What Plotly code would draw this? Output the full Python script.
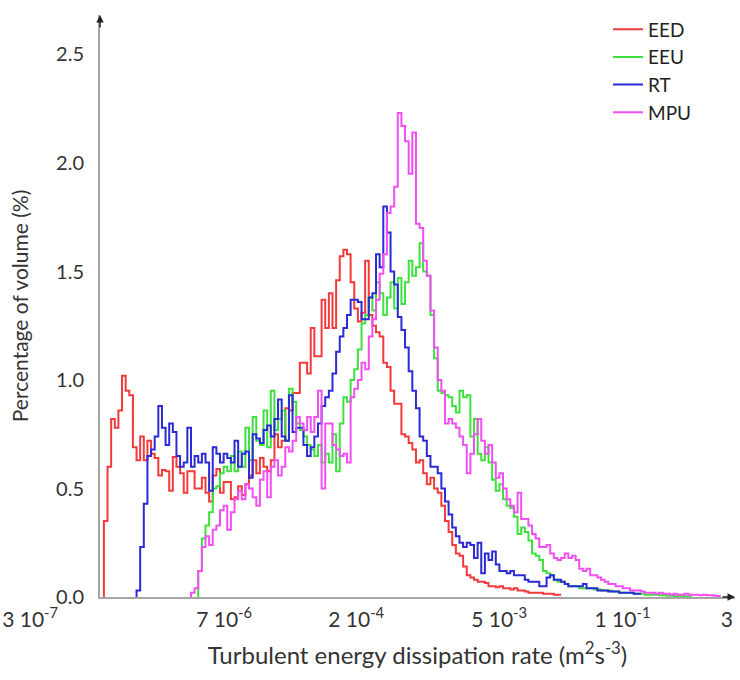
import numpy as np
import plotly.graph_objects as go

# Histogram grid (log10 of dissipation rate), regular bins
BIN0_LOG10 = -6.52
BIN_WIDTH_LOG10 = 0.04

series_names = ["EED", "EEU", "RT", "MPU"]
series_colors = ["#f23a3a", "#3ee03e", "#2a2ad6", "#f24ff2"]

eed_start = 1
eed_values = [0.35, 0.60, 0.82, 0.78, 0.86, 1.02, 0.95, 0.93, 0.69, 0.63,
              0.74, 0.63, 0.72, 0.66, 0.64, 0.56, 0.585, 0.58, 0.49, 0.645,
              0.60, 0.57, 0.48, 0.58, 0.58, 0.50, 0.50, 0.55, 0.48, 0.44,
              0.56, 0.59, 0.48, 0.53, 0.53, 0.45, 0.46, 0.51, 0.47, 0.52,
              0.56, 0.63, 0.57, 0.64, 0.60, 0.58, 0.63, 0.75, 0.69, 0.72,
              0.87, 0.86, 0.94, 0.94, 1.08, 1.08, 1.03, 1.24, 1.11, 1.11,
              1.37, 1.24, 1.40, 1.24, 1.46, 1.57, 1.60, 1.58, 1.45, 1.33,
              1.27, 1.31, 1.55, 1.30, 1.25, 1.22, 1.20, 1.08, 1.06, 0.95,
              0.89, 0.89, 0.75, 0.74, 0.71, 0.68, 0.62, 0.63, 0.57, 0.52,
              0.55, 0.50, 0.48, 0.42, 0.35, 0.30, 0.24, 0.20, 0.19, 0.14,
              0.10, 0.09, 0.08, 0.07, 0.07, 0.065, 0.05, 0.05, 0.045, 0.05,
              0.04, 0.04, 0.035, 0.04, 0.03, 0.03, 0.025, 0.02, 0.02, 0.02,
              0.02, 0.015, 0.015, 0.015, 0.01, 0.01]

eeu_start = 27
eeu_values = [0.12, 0.27, 0.33, 0.39, 0.50, 0.51, 0.57, 0.60, 0.58, 0.65,
              0.58, 0.67, 0.60, 0.78, 0.63, 0.83, 0.72, 0.70, 0.86, 0.69,
              0.95, 0.77, 0.82, 0.86, 0.72, 0.96, 0.90, 0.80, 0.77, 0.74,
              0.70, 0.68, 0.65, 0.70, 0.62, 0.66, 0.62, 0.75, 0.58, 0.80,
              0.92, 0.90, 1.00, 1.05, 1.14, 1.26, 1.30, 1.38, 1.32, 1.45,
              1.40, 1.30, 1.38, 1.45, 1.33, 1.47, 1.35, 1.45, 1.55, 1.48,
              1.52, 1.63, 1.50, 1.48, 1.30, 1.10, 0.95, 0.94, 0.93, 0.92,
              0.88, 0.85, 0.95, 0.92, 0.93, 0.74, 0.82, 0.66, 0.63, 0.69,
              0.62, 0.54, 0.49, 0.52, 0.45, 0.42, 0.41, 0.37, 0.29, 0.32,
              0.30, 0.26, 0.20, 0.19, 0.17, 0.12, 0.11, 0.10, 0.08, 0.07,
              0.07, 0.06, 0.05, 0.05, 0.05, 0.04, 0.04, 0.04, 0.04, 0.035,
              0.035, 0.03, 0.03, 0.03, 0.025, 0.025, 0.02, 0.02, 0.02, 0.02,
              0.015, 0.015, 0.015, 0.01, 0.01, 0.01, 0.01, 0.008, 0.008, 0.006,
              0.006, 0.005, 0.005, 0.004, 0.004, 0.003]

rt_start = 10
rt_values = [0.03, 0.23, 0.43, 0.65, 0.68, 0.74, 0.88, 0.78, 0.70, 0.80,
             0.76, 0.65, 0.60, 0.62, 0.78, 0.60, 0.65, 0.62, 0.66, 0.62,
             0.49, 0.69, 0.66, 0.62, 0.66, 0.64, 0.62, 0.72, 0.60, 0.66,
             0.67, 0.55, 0.75, 0.73, 0.71, 0.77, 0.79, 0.74, 0.82, 0.91,
             0.74, 0.72, 0.93, 0.76, 0.78, 0.78, 0.70, 0.65, 0.69, 0.74,
             0.80, 0.88, 0.92, 0.95, 1.03, 1.13, 1.20, 1.24, 1.30, 1.37,
             1.37, 1.36, 1.28, 1.28, 1.38, 1.40, 1.58, 1.52, 1.80, 1.68,
             1.50, 1.44, 1.29, 1.23, 1.15, 1.04, 0.95, 0.87, 0.74, 0.72,
             0.65, 0.60, 0.60, 0.57, 0.50, 0.44, 0.38, 0.32, 0.28, 0.25,
             0.23, 0.25, 0.24, 0.18, 0.25, 0.11, 0.20, 0.17, 0.21, 0.15,
             0.12, 0.12, 0.11, 0.12, 0.10, 0.10, 0.10, 0.08, 0.07, 0.07,
             0.07, 0.05, 0.05, 0.09, 0.10, 0.08, 0.08, 0.07, 0.06, 0.05,
             0.05, 0.05, 0.05, 0.06, 0.04, 0.04, 0.04, 0.03, 0.03, 0.03,
             0.025, 0.025, 0.025, 0.02, 0.02, 0.02, 0.02, 0.015, 0.015]

mpu_start = 25
mpu_values = [0.02, 0.04, 0.12, 0.23, 0.28, 0.24, 0.31, 0.33, 0.40, 0.42,
              0.31, 0.39, 0.45, 0.49, 0.45, 0.52, 0.50, 0.46, 0.42, 0.54,
              0.58, 0.46, 0.60, 0.63, 0.56, 0.60, 0.69, 0.67, 0.72, 0.83,
              0.80, 0.77, 0.83, 0.76, 0.83, 0.95, 0.50, 0.80, 0.80, 0.70,
              0.68, 0.65, 0.66, 0.62, 0.92, 0.96, 1.00, 1.08, 1.05, 1.20,
              1.28, 1.37, 1.49, 1.58, 1.77, 1.80, 1.89, 2.23, 2.17, 2.10,
              1.95, 2.14, 1.72, 1.70, 1.55, 1.48, 1.32, 1.15, 1.00, 0.95,
              0.80, 0.82, 0.80, 0.78, 0.74, 0.70, 0.57, 0.66, 0.75, 0.82,
              0.72, 0.66, 0.70, 0.62, 0.55, 0.57, 0.50, 0.45, 0.42, 0.39,
              0.48, 0.36, 0.36, 0.33, 0.29, 0.27, 0.23, 0.23, 0.24, 0.20,
              0.18, 0.17, 0.18, 0.20, 0.18, 0.19, 0.17, 0.13, 0.12, 0.13,
              0.10, 0.10, 0.09, 0.08, 0.07, 0.06, 0.06, 0.05, 0.05, 0.04,
              0.04, 0.03, 0.03, 0.03, 0.025, 0.02, 0.02, 0.02, 0.015, 0.02,
              0.015, 0.015, 0.01, 0.015, 0.01, 0.01, 0.015, 0.01, 0.01, 0.01,
              0.008, 0.01, 0.008, 0.008, 0.006, 0.005]

x_tick_values = [3e-7, 7e-6, 2e-4, 5e-3, 1e-1, 3]
x_tick_labels = ["3 10<sup>-7</sup>", "7 10<sup>-6</sup>", "2 10<sup>-4</sup>",
                 "5 10<sup>-3</sup>", "1 10<sup>-1</sup>", "3"]
y_tick_values = [0.0, 0.5, 1.0, 1.5, 2.0, 2.5]
y_tick_labels = ["0.0", "0.5", "1.0", "1.5", "2.0", "2.5"]

# visual nudges of the tick texts, as in the reference (non-breaking spaces)
NB = "&nbsp;"
x_tick_text = [x_tick_labels[0] + NB * 26, x_tick_labels[1], x_tick_labels[2],
               NB * 6 + x_tick_labels[3], NB * 8 + x_tick_labels[4],
               x_tick_labels[5] + NB * 3]

starts = [eed_start, eeu_start, rt_start, mpu_start]
values = [eed_values, eeu_values, rt_values, mpu_values]

FONT = "Lato, 'Open Sans', sans-serif"
TXT = "#333333"

fig = go.Figure()
for name, color, start, vals in zip(series_names, series_colors, starts, values):
    idx = np.arange(start, start + len(vals) + 1)
    edges = 10 ** (BIN0_LOG10 + BIN_WIDTH_LOG10 * idx)
    x = np.concatenate([[edges[0]], edges])
    y = [0.0] + list(vals) + [vals[-1]]
    fig.add_trace(go.Scatter(x=x, y=y, mode="lines", name=name,
                             line=dict(color=color, width=2, shape="hv")))

fig.update_layout(
    width=740, height=680,
    margin=dict(l=100, r=5, t=15, b=83),
    plot_bgcolor="white", paper_bgcolor="white",
    font=dict(family=FONT, size=20, color=TXT),
    showlegend=True,
    legend=dict(x=0.80, y=1.008, xanchor="left", yanchor="top",
                font=dict(family=FONT, size=19, color="#222222"),
                bgcolor="rgba(0,0,0,0)", tracegroupgap=0, itemwidth=30),
    xaxis=dict(type="log", range=[np.log10(3e-7), np.log10(3)],
               tickvals=x_tick_values, ticktext=x_tick_text,
               tickfont=dict(size=21, color=TXT), tickangle=0,
               showgrid=False, zeroline=False, showline=True,
               linecolor="#a6a6a6", linewidth=2, ticks="",
               ticklabelstandoff=3, ticklabeloverflow="allow",
               automargin=False,
               title=dict(text="Turbulent energy dissipation rate (m<sup>2</sup>s<sup>-3</sup>)",
                          font=dict(size=24, color=TXT), standoff=17)),
    yaxis=dict(range=[0, 2.682], tickvals=y_tick_values, ticktext=y_tick_labels,
               tickfont=dict(size=20, color=TXT),
               showgrid=False, zeroline=False, showline=True,
               linecolor="#a6a6a6", linewidth=2, ticks="",
               ticklabelstandoff=10, automargin=False,
               title=dict(text="Percentage of volume (%)",
                          font=dict(size=21, color=TXT), standoff=22)),
)

fig.add_annotation(x=0, y=1, xref="paper", yref="paper", ax=0, ay=14,
                   showarrow=True, arrowhead=2, arrowsize=1, arrowwidth=1.5,
                   arrowcolor="#222222", text="")
fig.add_annotation(x=1, y=0, xref="paper", yref="paper", ax=-14, ay=0,
                   showarrow=True, arrowhead=2, arrowsize=1, arrowwidth=1.5,
                   arrowcolor="#222222", text="")

fig.write_html("out.html", config={"displayModeBar": False},
               post_script="document.body.style.margin='0';document.body.style.overflow='hidden';")
